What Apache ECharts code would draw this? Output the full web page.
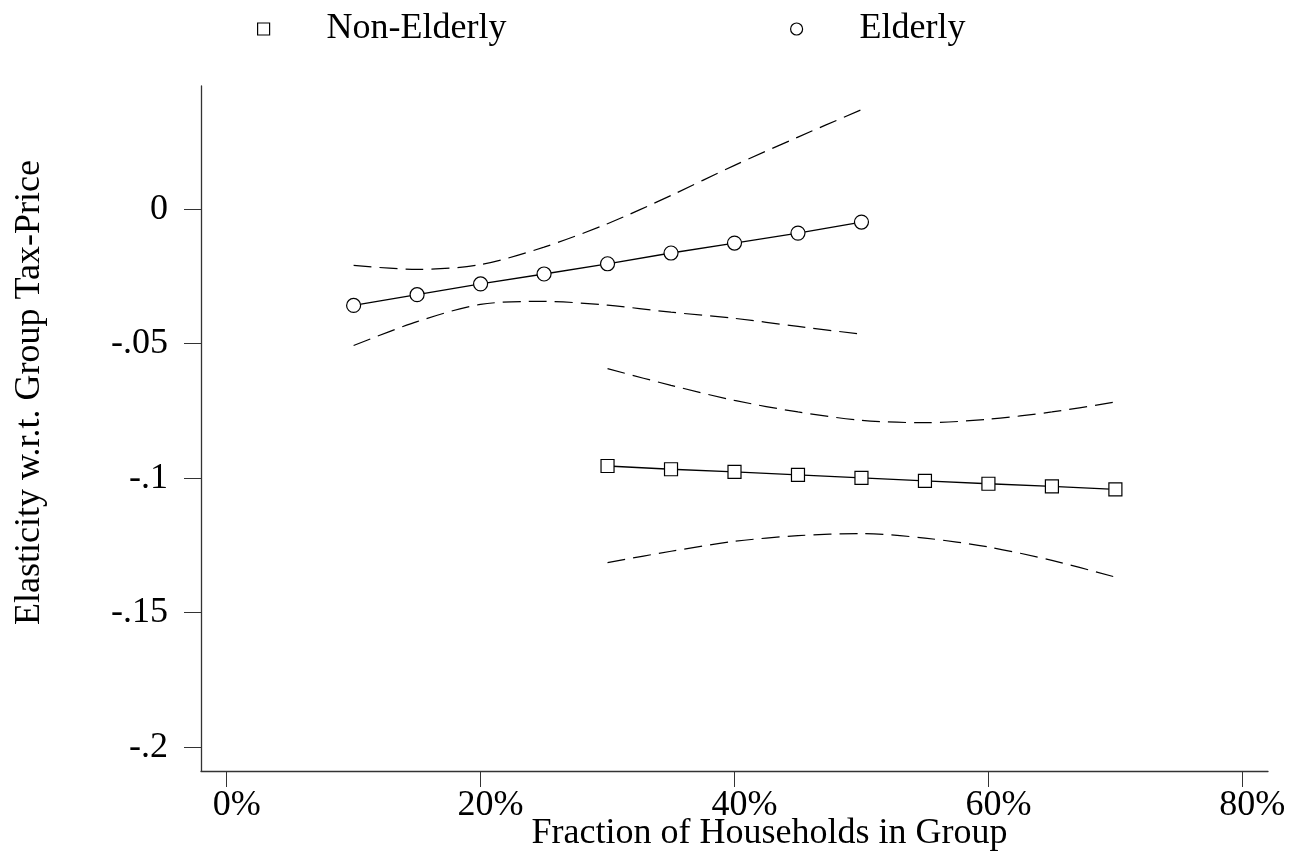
<!DOCTYPE html>
<html>
<head>
<meta charset="utf-8">
<title>Elasticity by group size</title>
<script src="https://cdn.jsdelivr.net/npm/echarts@6.0.0/dist/echarts.min.js"></script>
<style>
  html, body { margin: 0; padding: 0; background: #fff; }
  #chart { width: 1307px; height: 859px; }
</style>
</head>
<body>
<div id="chart"></div>
<script>
// 数据
var xElderly = [0.10, 0.15, 0.20, 0.25, 0.30, 0.35, 0.40, 0.45, 0.50];
var elderlyEst = [-0.0358, -0.0318, -0.0278, -0.0241, -0.0203, -0.0163, -0.0126, -0.0089, -0.0048];
var elderlyUpper = [-0.0209, -0.0224, -0.0206, -0.0141, -0.0054, 0.0051, 0.0163, 0.0268, 0.0370];
var elderlyLower = [-0.0507, -0.0418, -0.0354, -0.0343, -0.0357, -0.0383, -0.0406, -0.0436, -0.0465];

var xNonElderly = [0.30, 0.35, 0.40, 0.45, 0.50, 0.55, 0.60, 0.65, 0.70];
var nonElderlyEst = [-0.0955, -0.0967, -0.0977, -0.0988, -0.0999, -0.1010, -0.1021, -0.1031, -0.1042];
var nonElderlyUpper = [-0.0593, -0.0655, -0.0711, -0.0754, -0.0785, -0.0794, -0.0781, -0.0754, -0.0717];
var nonElderlyLower = [-0.1314, -0.1272, -0.1235, -0.1214, -0.1206, -0.1223, -0.1256, -0.1306, -0.1368];

var xTicks = [0, 0.2, 0.4, 0.6, 0.8];
var xTickLabels = ["0%", "20%", "40%", "60%", "80%"];
var yTicks = [-0.2, -0.15, -0.1, -0.05, 0];
var yTickLabels = ["-.2", "-.15", "-.1", "-.05", "0"];

function pairs(xs, ys) {
  return xs.map(function (x, i) { return [x, ys[i]]; });
}
function tickLabel(ticks, labels) {
  return function (v) {
    for (var i = 0; i < ticks.length; i++) {
      if (Math.abs(ticks[i] - v) < 1e-6) return labels[i];
    }
    return "";
  };
}

var font = "'Liberation Serif', 'Times New Roman', serif";
var axisColor = "#333";

// 线样式
var solid = { color: "#000", width: 1.3 };
var dashed = { color: "#000", width: 1.2, type: [18, 8] };
var hollow = { color: "#fff", borderColor: "#000", borderWidth: 1.2 };

var chart = echarts.init(document.getElementById("chart"));
chart.setOption({
  animation: false,
  backgroundColor: "#fff",
  textStyle: { fontFamily: font, color: "#000" },
  legend: [
    {
      data: [{ name: "Non-Elderly", icon: "rect", itemStyle: hollow }],
      left: 252, top: 6,
      itemWidth: 12, itemHeight: 12,
      textStyle: { fontSize: 36, fontFamily: font, color: "#000", padding: [0, 0, 0, 52] },
      selectedMode: false
    },
    {
      data: [{ name: "Elderly", icon: "circle", itemStyle: hollow }],
      left: 785, top: 6,
      itemWidth: 12, itemHeight: 12,
      textStyle: { fontSize: 36, fontFamily: font, color: "#000", padding: [0, 0, 0, 52] },
      selectedMode: false
    }
  ],
  grid: { left: 201, right: 39, top: 86, bottom: 88, containLabel: false, outerBoundsMode: "none" },
  xAxis: {
    type: "value",
    min: -0.0202,
    max: 0.8202,
    name: "Fraction of Households in Group",
    nameLocation: "middle",
    nameGap: 45,
    nameMoveOverlap: false,
    nameTextStyle: { fontSize: 36, fontFamily: font, color: "#000", padding: [0, 0, 0, 70] },
    axisLine: { onZero: false, lineStyle: { color: axisColor, width: 1.3 } },
    axisTick: { length: 16, customValues: xTicks, lineStyle: { color: axisColor, width: 1 } },
    axisLabel: {
      customValues: xTicks,
      formatter: tickLabel(xTicks, xTickLabels),
      fontSize: 36, fontFamily: font, color: "#000", margin: 17,
      padding: [0, 0, 0, 20]
    },
    splitLine: { show: false }
  },
  yAxis: {
    type: "value",
    min: -0.2089,
    max: 0.0458,
    name: "Elasticity w.r.t. Group Tax-Price",
    nameLocation: "middle",
    nameGap: 153,
    nameMoveOverlap: false,
    nameTextStyle: { fontSize: 36, fontFamily: font, color: "#000", padding: [0, 0, 0, 72] },
    axisLine: { show: true, onZero: false, lineStyle: { color: axisColor, width: 1.3 } },
    axisTick: { show: true, length: 17, customValues: yTicks, lineStyle: { color: axisColor, width: 1 } },
    axisLabel: {
      customValues: yTicks,
      formatter: tickLabel(yTicks, yTickLabels),
      fontSize: 36, fontFamily: font, color: "#000", margin: 33
    },
    splitLine: { show: false }
  },
  series: [
    {
      name: "Non-Elderly", type: "line",
      data: pairs(xNonElderly, nonElderlyEst),
      symbol: "rect", symbolSize: 13,
      itemStyle: hollow, lineStyle: solid, z: 3
    },
    {
      name: "Elderly", type: "line",
      data: pairs(xElderly, elderlyEst),
      symbol: "circle", symbolSize: 14,
      itemStyle: hollow, lineStyle: solid, z: 3
    },
    // 置信区间
    { name: "ne-upper", type: "line", data: pairs(xNonElderly, nonElderlyUpper), showSymbol: false, smooth: 0.3, lineStyle: dashed },
    { name: "ne-lower", type: "line", data: pairs(xNonElderly, nonElderlyLower), showSymbol: false, smooth: 0.3, lineStyle: dashed },
    { name: "e-upper", type: "line", data: pairs(xElderly, elderlyUpper), showSymbol: false, smooth: 0.3, lineStyle: dashed },
    { name: "e-lower", type: "line", data: pairs(xElderly, elderlyLower), showSymbol: false, smooth: 0.3, lineStyle: dashed }
  ]
});
</script>
</body>
</html>
